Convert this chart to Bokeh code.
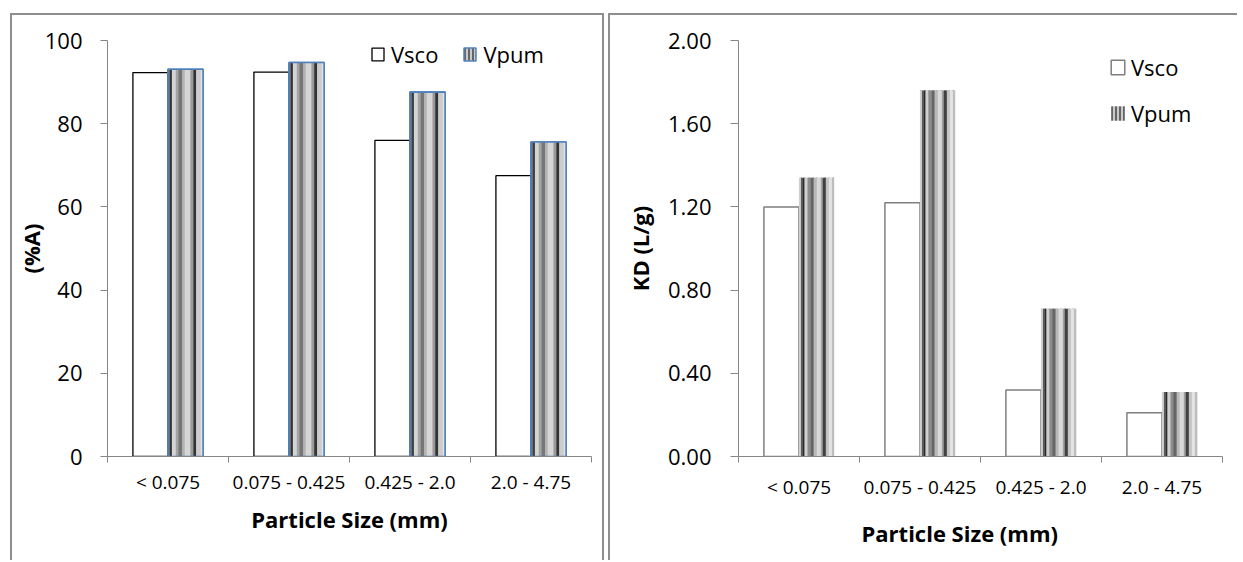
import numpy as np
from bokeh.plotting import figure
from bokeh.layouts import row
from bokeh.models import (ColumnDataSource, Range1d, LinearAxis, FixedTicker, Legend, LegendItem,
                          PrintfTickFormatter, Title)
from bokeh.transform import dodge
from bokeh.embed import file_html
from bokeh.resources import INLINE

# ---------------- data ----------------
categories = ["< 0.075", "0.075 - 0.425", "0.425 - 2.0", "2.0 - 4.75"]
series_names = ["Vsco", "Vpum"]
removal_vsco = [92.3, 92.4, 76.0, 67.5]
removal_vpum = [93.1, 94.7, 87.6, 75.6]
kd_vsco = [1.20, 1.22, 0.32, 0.21]
kd_vpum = [1.34, 1.76, 0.71, 0.31]
removal_ticks = [0, 20, 40, 60, 80, 100]
kd_ticks = [0.0, 0.4, 0.8, 1.2, 1.6, 2.0]
x_title = "Particle Size (mm)"
left_y_title = "(%A)"
right_y_title = "KD (L/g)"

# ---------------- style ----------------
FONT = "Open Sans"
AXIS_GRAY = "#868686"
BORDER = "2px solid #8e8e8e"
BAR_W = 0.29
LEFT_STRIPES = [(2.0, "#6b6b6b"), (1.5, "#262626"), (3.5, "#d4d4d4"), (2.5, "#a3a3a3"),
                (3.0, "#767676"), (2.5, "#b3b3b3"), (5.0, "#d6d6d6"), (2.5, "#9a9a9a"),
                (2.5, "#333333"), (4.0, "#cccccc"), (2.0, "#e2e2e2")]
RIGHT_STRIPES = [(2, "#d0d0d0"), (2, "#5a5a5a"), (1.5, "#2a2a2a"), (3, "#d0d0d0"),
                 (3, "#8c8c8c"), (3, "#666666"), (3, "#b8b8b8"), (4, "#d9d9d9"),
                 (2, "#a0a0a0"), (3, "#404040"), (3, "#c4c4c4"), (3, "#e3e3e3"), (2, "#bdbdbd")]

n_cat = len(categories)
cat_pos = list(np.arange(n_cat) + 0.5)          # category centres on the index scale
cat_edges = list(range(n_cat + 1))              # boundaries between categories


def make_chart(vsco, vpum, ticks, fmt, ytitle, width, height, borders, stripes,
               vsco_line, vsco_lw, vpum_line, ytick_out, ylab_standoff, ytitle_standoff,
               xlab_standoff, xtitle_standoff, legend_kw, legend_glyph, title_offset=None):
    p = figure(x_range=Range1d(0, n_cat), y_range=Range1d(ticks[0], ticks[-1]),
               width=width, height=height, output_backend="svg", toolbar_location=None,
               x_axis_location=None, y_axis_location=None,
               min_border_left=borders[0], min_border_right=borders[1],
               min_border_top=borders[2], min_border_bottom=borders[3])
    p.xgrid.visible = False
    p.ygrid.visible = False
    p.outline_line_color = None
    p.background_fill_color = "white"
    p.border_fill_color = "white"

    src = ColumnDataSource(dict(pos=cat_pos, cat=categories, vsco=vsco, vpum=vpum))

    vsco_r = p.vbar(x=dodge("pos", -BAR_W / 2), top="vsco", width=BAR_W,
                    source=src, fill_color="white", line_color=vsco_line, line_width=vsco_lw)
    # base of the striped series (also used as its legend glyph)
    vpum_base = p.vbar(x=dodge("pos", BAR_W / 2), top="vpum", width=BAR_W, source=src,
                       fill_color="#c9c9c9", hatch_pattern="|", hatch_color="#3a3a3a",
                       hatch_scale=4, hatch_weight=1.4,
                       line_color=legend_glyph, line_width=1.5)
    total = sum(w for w, _ in stripes)
    off = 0.0
    for w, c in stripes:
        sw = w / total * BAR_W
        p.vbar(x=dodge("pos", off + sw / 2), top="vpum", width=sw * 1.08,
               source=src, fill_color=c, line_color=None)
        off += sw
    if vpum_line is not None:
        p.vbar(x=dodge("pos", BAR_W / 2), top="vpum", width=BAR_W,
               source=src, fill_color=None, line_color=vpum_line, line_width=1.6)

    # y axis
    yax = LinearAxis(ticker=FixedTicker(ticks=ticks), formatter=PrintfTickFormatter(format=fmt),
                     axis_label=ytitle)
    yax.axis_line_color = AXIS_GRAY
    yax.major_tick_line_color = AXIS_GRAY
    yax.minor_tick_line_color = None
    yax.major_tick_out = ytick_out
    yax.major_tick_in = 0
    yax.major_label_standoff = ylab_standoff
    yax.major_label_text_font = FONT
    yax.major_label_text_font_size = "22px"
    yax.major_label_text_color = "black"
    yax.axis_label_text_font = FONT
    yax.axis_label_text_font_size = "22px"
    yax.axis_label_text_font_style = "bold"
    yax.axis_label_text_color = "black"
    yax.axis_label_standoff = ytitle_standoff
    p.add_layout(yax, "left")

    # x axis: labels at category centres, tick marks between categories
    xax = LinearAxis(ticker=FixedTicker(ticks=cat_pos, minor_ticks=cat_edges),
                     axis_label=None if title_offset is not None else x_title)
    xax.major_label_overrides = {float(k): v for k, v in zip(cat_pos, categories)}
    xax.axis_line_color = AXIS_GRAY
    xax.major_tick_line_color = None
    xax.major_tick_out = 6
    xax.major_tick_in = 0
    xax.minor_tick_line_color = AXIS_GRAY
    xax.minor_tick_out = 6
    xax.minor_tick_in = 0
    xax.major_label_standoff = xlab_standoff
    xax.major_label_text_font = FONT
    xax.major_label_text_font_size = "19px"
    xax.major_label_text_color = "black"
    xax.axis_label_text_font = FONT
    xax.axis_label_text_font_size = "22px"
    xax.axis_label_text_font_style = "bold"
    xax.axis_label_text_color = "black"
    xax.axis_label_standoff = xtitle_standoff
    p.add_layout(xax, "below")

    if title_offset is not None:
        # x-axis title placed slightly left of the axis centre, as in the original
        p.add_layout(Title(text=x_title, align="left", offset=title_offset,
                           vertical_align="middle", standoff=xtitle_standoff,
                           text_font=FONT, text_font_size="22px", text_font_style="bold",
                           text_color="black"), "below")

    legend = Legend(items=[LegendItem(label=series_names[0], renderers=[vsco_r]),
                           LegendItem(label=series_names[1], renderers=[vpum_base])],
                    border_line_color=None, background_fill_alpha=0, padding=0, margin=0,
                    label_text_font=FONT, label_text_font_size="22px", label_text_color="black",
                    **legend_kw)
    p.add_layout(legend)
    return p


p1 = make_chart(removal_vsco, removal_vpum, removal_ticks, "%d", left_y_title,
                width=594, height=547, borders=(95, 15, 25, 102), stripes=LEFT_STRIPES,
                vsco_line="black", vsco_lw=1.3, vpum_line="#4f81bd",
                ytick_out=7, ylab_standoff=18, ytitle_standoff=-4,
                xlab_standoff=6, xtitle_standoff=6,
                legend_kw=dict(location=(263, 387), orientation="horizontal", spacing=24,
                               label_standoff=6, glyph_width=15, glyph_height=16),
                legend_glyph="#4f81bd")
p1.margin = (13, 0, 0, 10)
p1.styles = {"border-top": BORDER, "border-left": BORDER, "border-right": BORDER}

p2 = make_chart(kd_vsco, kd_vpum, kd_ticks, "%.2f", right_y_title,
                width=629, height=547, borders=(128, 17, 25, 102), stripes=RIGHT_STRIPES,
                vsco_line="#7f7f7f", vsco_lw=1.5, vpum_line=None,
                ytick_out=8, ylab_standoff=19, ytitle_standoff=10,
                xlab_standoff=11, xtitle_standoff=28,
                legend_kw=dict(location=(371, 328), orientation="vertical", spacing=16,
                               label_standoff=5, glyph_width=17, glyph_height=18),
                legend_glyph=None, title_offset=123)
p2.margin = (13, 0, 0, 4)
p2.styles = {"border-top": BORDER, "border-left": BORDER}

layout = row(p1, p2)
open("out.html", "w").write(file_html(layout, INLINE))
